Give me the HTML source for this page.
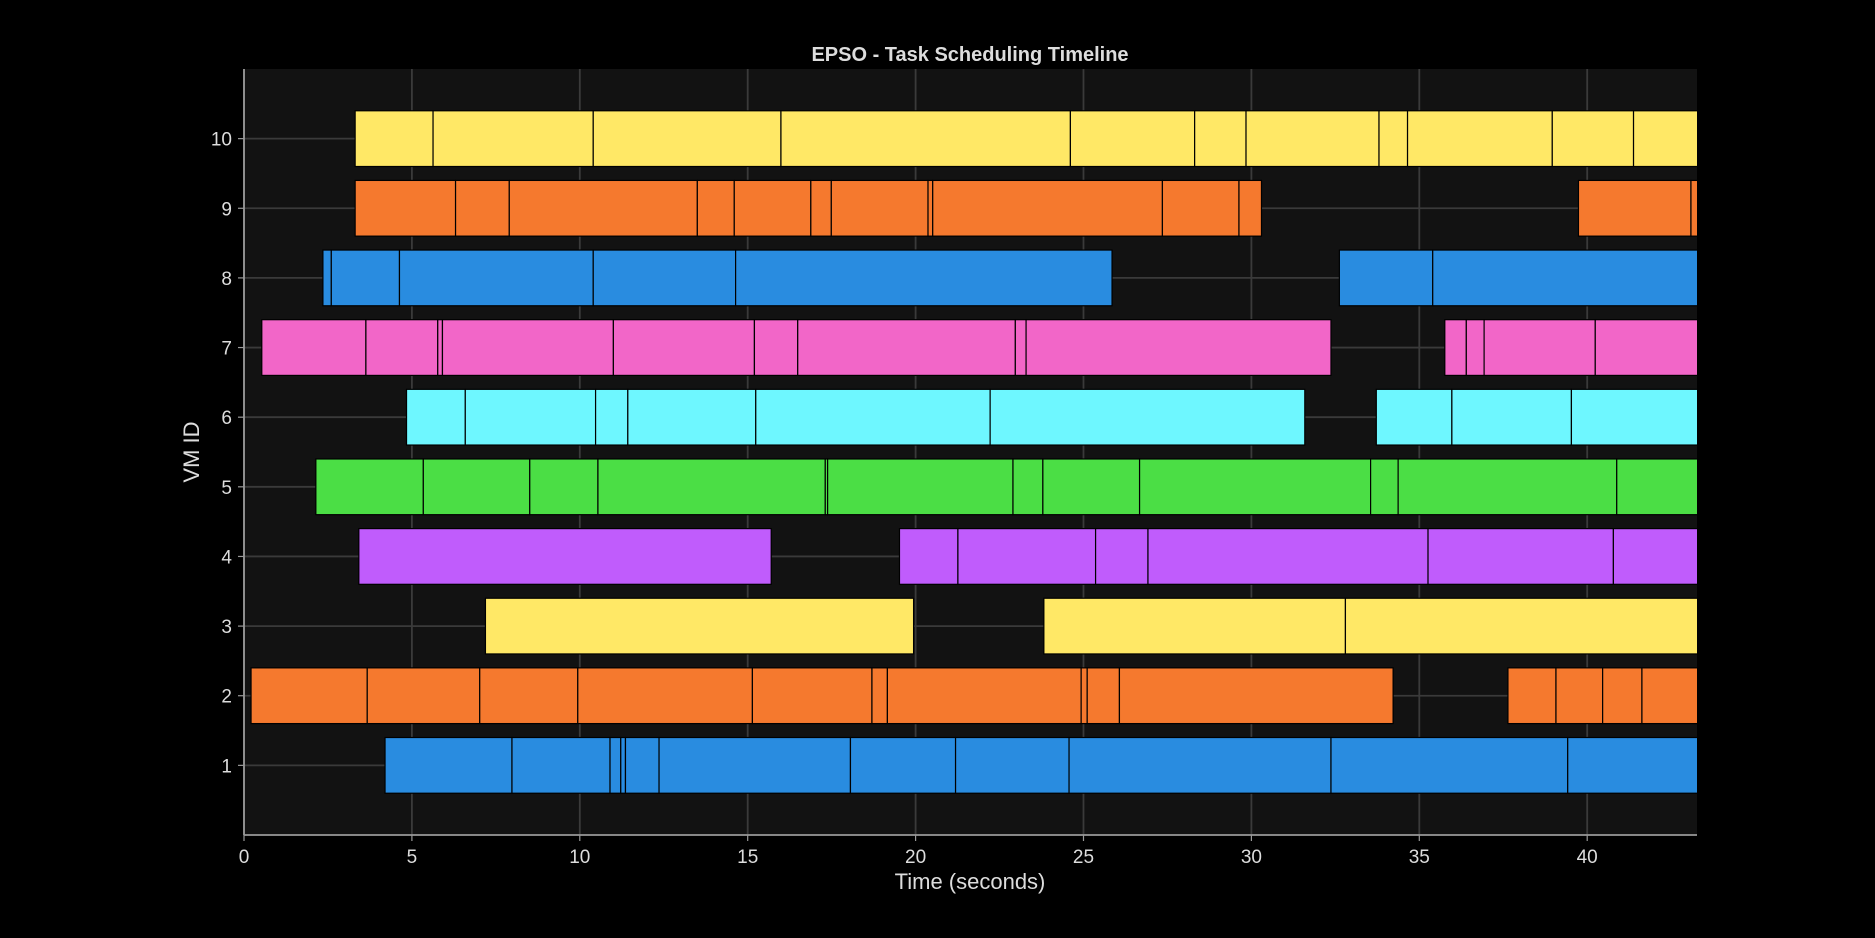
<!DOCTYPE html>
<html><head><meta charset="utf-8">
<style>
html,body{margin:0;padding:0;background:#000;}
svg{display:block;font-family:"Liberation Sans",sans-serif;}
</style></head>
<body>
<svg id="chart" width="1875" height="938" viewBox="0 0 1875 938">
<rect width="1875" height="938" fill="#000"/>
<rect x="244" y="69" width="1453" height="766" fill="#121212"/>
<defs><clipPath id="pc"><rect x="244" y="69" width="1453" height="766"/></clipPath></defs>
<g id="grid"></g>
<g id="bars" clip-path="url(#pc)"></g>
<g id="axes"></g>
<text x="970" y="61" text-anchor="middle" font-size="20" font-weight="bold" fill="#dddddd">EPSO - Task Scheduling Timeline</text>
<text x="970" y="889" text-anchor="middle" font-size="22" fill="#dddddd">Time (seconds)</text>
<text x="199" y="452" text-anchor="middle" font-size="22" fill="#dddddd" transform="rotate(-90 199 452)">VM ID</text>
</svg>
<script>
const xTicks=[0,5,10,15,20,25,30,35,40];
const yTicks=[1,2,3,4,5,6,7,8,9,10];
const vmColors=["#298ce0","#f5792e","#ffe866","#c05cfc","#4bde45","#6ef7ff","#f266c8","#298ce0","#f5792e","#ffe866"];
const vm1=[[4.2,7.98,10.9,11.22,11.36,12.36,18.06,21.19,24.57,32.37,39.42,44]];
const vm2=[[0.21,3.67,7.02,9.94,15.14,18.7,19.16,24.93,25.11,26.07,34.22],[37.64,39.07,40.46,41.63,44]];
const vm3=[[7.19,19.94],[23.82,32.8,44]];
const vm4=[[3.42,15.7],[19.52,21.26,25.36,26.92,35.26,40.78,44]];
const vm5=[[2.14,5.34,8.51,10.54,17.31,17.38,22.9,23.79,26.67,33.55,34.37,40.88,44]];
const vm6=[[4.84,6.59,10.47,11.43,15.24,22.22,31.59],[33.72,35.97,39.53,44]];
const vm7=[[0.53,3.63,5.77,5.91,11.0,15.2,16.49,22.97,23.29,32.37],[35.76,36.4,36.93,40.24,44]];
const vm8=[[2.35,2.6,4.63,10.4,14.64,25.85],[32.62,35.4,44]];
const vm9=[[3.31,6.3,7.9,13.5,14.6,16.88,17.49,20.37,20.51,27.35,29.63,30.3],[39.74,43.09,44]];
const vm10=[[3.31,5.63,10.4,15.99,24.61,28.31,29.84,33.8,34.65,38.96,41.38,44]];
const vmRuns=[vm1,vm2,vm3,vm4,vm5,vm6,vm7,vm8,vm9,vm10];

const X0=244,X1=1697,Y0=835,Y1=69,XMAX=43.27,YMAX=11;
const xs=v=>X0+(v/XMAX)*(X1-X0);
const ys=v=>Y0-(v/YMAX)*(Y0-Y1);
const NS="http://www.w3.org/2000/svg";
function mk(tag,attrs,parent){const e=document.createElementNS(NS,tag);for(const k in attrs)e.setAttribute(k,attrs[k]);parent.appendChild(e);return e;}
const grid=document.getElementById('grid'),bars=document.getElementById('bars'),axes=document.getElementById('axes');
xTicks.forEach(t=>{
  const l=mk('line',{x1:xs(t),x2:xs(t),y1:Y1,y2:Y0,stroke:'#3a3a3a','stroke-width':1.8},grid);
  
  
  const tk=mk('line',{x1:xs(t),x2:xs(t),y1:Y0,y2:Y0+6,stroke:'#999','stroke-width':1.2},axes);
  
  
  const tx=mk('text',{x:xs(t),y:Y0+28,'text-anchor':'middle','font-size':19,fill:'#dddddd'},axes);
  tx.textContent=t;
  
  
});
yTicks.forEach(t=>{
  const l=mk('line',{x1:X0,x2:X1,y1:ys(t),y2:ys(t),stroke:'#3a3a3a','stroke-width':1.8},grid);
  
  
  const tk=mk('line',{x1:X0-6,x2:X0,y1:ys(t),y2:ys(t),stroke:'#999','stroke-width':1.2},axes);
  
  
  const tx=mk('text',{x:X0-12,y:ys(t)+7,'text-anchor':'end','font-size':19,fill:'#dddddd'},axes);
  tx.textContent=t;
  
  
});
vmRuns.forEach((runs,i)=>{
  const vm=yTicks[i];
  runs.forEach(b=>{
    for(let j=0;j<b.length-1;j++){
      const r=mk('rect',{x:xs(b[j]),y:ys(vm+0.4),width:xs(b[j+1])-xs(b[j]),height:ys(vm-0.4)-ys(vm+0.4),fill:vmColors[i],stroke:'#000','stroke-width':1.2},bars);
      
      
    }
  });
});
const ax=mk('line',{x1:X0,x2:X0,y1:Y1,y2:Y0,stroke:'#999','stroke-width':1.8},axes);


const bx=mk('line',{x1:X0,x2:X1,y1:Y0,y2:Y0,stroke:'#999','stroke-width':1.8},axes);


</script>
</body></html>
